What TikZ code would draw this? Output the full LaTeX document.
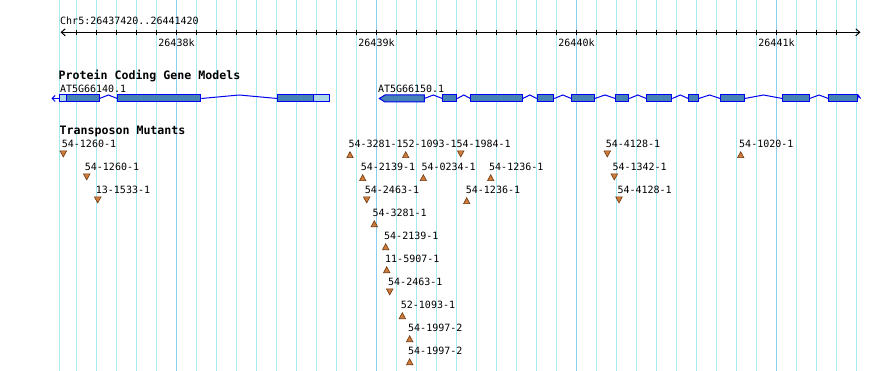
\documentclass[tikz,border=0pt]{standalone}
\usepackage{fontspec}
\usetikzlibrary{arrows.meta,calc}
\newfontfamily\monofam{DejaVu Sans Mono}
\definecolor{gridc}{RGB}{166,234,242}
\definecolor{gridmaj}{RGB}{140,206,242}
\definecolor{cdsfill}{RGB}{70,130,180}
\definecolor{utrfill}{RGB}{173,216,230}
\definecolor{geneline}{RGB}{0,0,240}
\definecolor{trifill}{RGB}{206,124,60}
\definecolor{tridraw}{RGB}{110,55,15}
\newcommand\mutup[5]{%
  \node[txt] (#1) at (#3,#4) {#2};
  \filldraw[tri] ({#5},{#4+4.4}) -- ({#5+3.2},{#4+10.4}) -- ({#5-3.2},{#4+10.4}) -- cycle;}
\newcommand\mutdn[5]{%
  \node[txt] (#1) at (#3,#4) {#2};
  \filldraw[tri] ({#5-3.3},{#4+3.6}) -- ({#5+3.3},{#4+3.6}) -- ({#5},{#4+9.6}) -- cycle;}
\newcommand\exon[4]{%
  \node[#1, minimum width=#4, anchor=west] (#2) at (#3,98.5) {};}
\newcommand\intron[2]{%
  \draw[intronline] (#1.east) -- ($(#1.east)!0.5!(#2.west)+(0,-3.5)$) -- (#2.west);}
\begin{document}
\begin{tikzpicture}[x=1pt,y=-1pt,
  gridline/.style={gridc, line width=1pt},
  majgrid/.style={gridmaj, line width=1pt},
  txt/.style={font=\monofam\fontsize{10}{12}\selectfont, inner sep=0pt, anchor=base west},
  ttl/.style={font=\monofam\bfseries\fontsize{11.6}{14}\selectfont, inner sep=0pt, anchor=base west},
  cds/.style={draw=geneline, fill=cdsfill, line width=1pt, minimum height=7pt, inner sep=0pt},
  utr/.style={draw=geneline, fill=utrfill, line width=1pt, minimum height=7pt, inner sep=0pt},
  intronline/.style={geneline, line width=1pt},
  tri/.style={draw=tridraw, fill=trifill, line width=0.6pt},
  ruler/.style={black, line width=1pt}]
\fill[white] (0,0) rectangle (890,371);
\useasboundingbox (0,0) rectangle (890,371);
% grid
\draw[gridline] (59.5,0) -- (59.5,371);
\foreach \k in {0,...,39} {\draw[gridline] ({76.5+20*\k},0) -- ({76.5+20*\k},371);}
\foreach \k in {5,15,25,35} {\draw[majgrid] ({76.5+20*\k},0) -- ({76.5+20*\k},371);}
% ruler
\node[txt] (chr) at (60,25) {Chr5:26437420..26441420};
\coordinate (rl) at (60.5,32.3);
\coordinate (rr) at (860.5,32.3);
\draw[ruler, {Straight Barb[length=4pt, width=7pt]}-{Straight Barb[length=4pt, width=7pt]}] (rl) -- (rr);
\foreach \k in {0,...,38} {\draw[ruler] ({76.5+20*\k},30) -- ({76.5+20*\k},35);}
\node[txt, anchor=base] (k38) at (176.5,46.5) {26438k};
\node[txt, anchor=base] (k39) at (376.5,46.5) {26439k};
\node[txt, anchor=base] (k40) at (576.5,46.5) {26440k};
\node[txt, anchor=base] (k41) at (776.5,46.5) {26441k};
% gene models
\node[ttl] (pcgm) at (58.5,80) {Protein Coding Gene Models};
\node[txt] (g1lab) at (59.8,92.3) {AT5G66140.1};
\node[txt] (g2lab) at (377.8,92.3) {AT5G66150.1};
% gene 1
\exon{utr}{ga}{59.3}{6.4}
\exon{cds}{gb}{65.7}{32.8}
\exon{cds}{gc}{117.3}{83}
\exon{cds}{gd}{277.3}{35.4}
\exon{utr}{ge}{312.7}{16.6}
\coordinate (g1tip) at (51.5,98.5);
\draw[intronline, -{Straight Barb[length=3pt, width=6pt]}] (ga.west) -- (g1tip);
\intron{gb}{gc}
\intron{gc}{gd}
% gene 2
\filldraw[draw=geneline, fill=cdsfill, line width=1pt] (379.3,98.5) -- (385,95) -- (424.3,95) -- (424.3,102) -- (385,102) -- cycle;
\coordinate (h0) at (424.3,98.5);
\exon{cds}{h1}{442.3}{14}
\exon{cds}{h2}{470.3}{51.4}
\exon{cds}{h3}{536.7}{16.6}
\exon{cds}{h4}{571.3}{22.4}
\exon{cds}{h5}{615.3}{13}
\exon{cds}{h6}{646.3}{25}
\exon{cds}{h7}{688.3}{9.4}
\exon{cds}{h8}{720.3}{23.4}
\exon{cds}{h9}{782.3}{26.4}
\exon{cds}{h10}{828.3}{28.4}
\draw[intronline] (h0) -- ($(h0)!0.5!(h1.west)+(0,-3.5)$) -- (h1.west);
\intron{h1}{h2}
\intron{h2}{h3}
\intron{h3}{h4}
\intron{h4}{h5}
\intron{h5}{h6}
\intron{h6}{h7}
\intron{h7}{h8}
\intron{h8}{h9}
\intron{h9}{h10}
\coordinate (htail) at (860.5,98.5);
\draw[intronline] (h10.east) -- (858.5,95.5) -- (htail);
% transposon mutants
\node[ttl] (tm) at (59.5,135) {Transposon Mutants};
\mutdn{m1}{54-1260-1}{61.7}{147.3}{63.3}
\mutup{m2}{54-3281-1}{348.3}{147.3}{350}
\mutup{m3}{52-1093-1}{402.3}{147.3}{405.7}
\mutdn{m4}{54-1984-1}{456.3}{147.3}{460.7}
\mutdn{m5}{54-4128-1}{605.7}{147.3}{607.3}
\mutup{m6}{54-1020-1}{739}{147.3}{740.7}
\mutdn{m7}{54-1260-1}{84.7}{170.3}{86.7}
\mutup{m8}{54-2139-1}{360.7}{170.3}{362.7}
\mutup{m9}{54-0234-1}{421.3}{170.3}{423.3}
\mutup{m10}{54-1236-1}{489}{170.3}{490.7}
\mutdn{m11}{54-1342-1}{612.3}{170.3}{614.3}
\mutdn{m12}{13-1533-1}{95.7}{193.3}{97.7}
\mutdn{m13}{54-2463-1}{364.7}{193.3}{366.7}
\mutup{m14}{54-1236-1}{465.7}{193.3}{466.7}
\mutdn{m15}{54-4128-1}{617.3}{193.3}{619}
\mutup{m16}{54-3281-1}{372.3}{216.3}{374.3}
\mutup{m17}{54-2139-1}{384}{239.3}{385.7}
\mutup{m18}{11-5907-1}{385}{262.3}{386.7}
\mutdn{m19}{54-2463-1}{388}{285.3}{389.7}
\mutup{m20}{52-1093-1}{400.7}{308.3}{402.3}
\mutup{m21}{54-1997-2}{408}{331.3}{409.7}
\mutup{m22}{54-1997-2}{408}{354.3}{409.7}
\end{tikzpicture}
\end{document}
